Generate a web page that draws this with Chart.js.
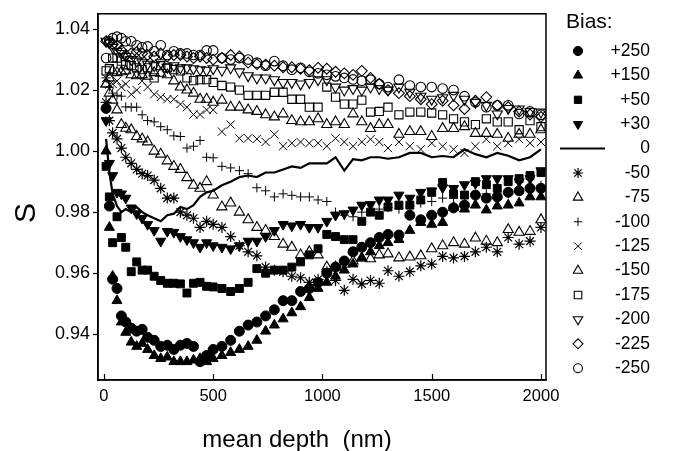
<!DOCTYPE html>
<html><head><meta charset="utf-8">
<script src="https://cdn.jsdelivr.net/npm/chart.js@4/dist/chart.umd.min.js"></script>
<style>html,body{margin:0;padding:0;background:#fff}canvas{display:block}</style>
</head><body>
<canvas id="c" width="673" height="451"></canvas>
<script>
// ---- data ----
const depth = [10,25,40,60,80,100,125,150,175,200,
  230,260,290,320,350,380,410,440,470,500,
  540,580,620,660,700,740,780,820,860,900,
  940,980,1020,1060,1100,1140,1180,1220,1260,1300,
  1350,1400,1450,1500,1550,1600,1650,1700,1750,1800,
  1850,1900,1950,2000];
const xTicks = [0,500,1000,1500,2000];
const yTicks = [0.94,0.96,0.98,1.00,1.02,1.04];
const biasLabels = ['+250','+150','+50','+30','0','-50','-75','-100','-125','-150','-175','-200','-225','-250'];

const sP250 = [1.014,0.982,0.958,0.955,0.946,0.944,0.942,0.941,0.9416,0.939,
  0.938,0.936,0.9364,0.935,0.9364,0.937,0.936,0.931,0.933,0.935,
  0.936,0.938,0.941,0.943,0.944,0.946,0.948,0.951,0.951,0.954,
  0.955,0.957,0.960,0.962,0.964,0.967,0.9685,0.970,0.9717,0.9727,
  0.9725,0.979,0.9775,0.979,0.980,0.9814,0.9823,0.9856,0.9846,0.985,
  0.9865,0.987,0.9878,0.9878];
const sP150 = [1.000,0.975,0.959,0.951,0.944,0.9406,0.9374,0.936,0.937,0.935,
  0.933,0.932,0.9325,0.931,0.931,0.931,0.9315,0.932,0.931,0.932,
  0.933,0.934,0.935,0.936,0.938,0.941,0.943,0.945,0.947,0.949,
  0.952,0.955,0.957,0.959,0.961,0.963,0.965,0.967,0.969,0.970,
  0.971,0.974,0.9766,0.976,0.9766,0.9815,0.981,0.9823,0.9807,0.982,
  0.9823,0.983,0.985,0.985];
const sP50 = [0.995,0.985,0.970,0.9785,0.9717,0.9685,0.9605,0.9637,0.961,0.961,
  0.959,0.9576,0.9567,0.9567,0.9565,0.9535,0.9567,0.957,0.9557,0.9555,
  0.955,0.954,0.955,0.957,0.9615,0.960,0.961,0.961,0.962,0.9637,
  0.966,0.968,0.9727,0.972,0.971,0.971,0.977,0.980,0.979,0.9817,
  0.9823,0.9823,0.984,0.9865,0.9897,0.986,0.9856,0.990,0.989,0.9878,
  0.990,0.991,0.992,0.993];
const sP30 = [1.010,0.996,0.992,0.9865,0.986,0.9846,0.9814,0.9795,0.978,0.976,
  0.974,0.9705,0.9737,0.9734,0.972,0.971,0.970,0.9685,0.970,0.969,
  0.9685,0.968,0.969,0.9705,0.9705,0.972,0.974,0.976,0.9755,0.976,
  0.975,0.975,0.977,0.979,0.9795,0.9807,0.9823,0.9825,0.984,0.984,
  0.9856,0.9846,0.9865,0.987,0.988,0.9878,0.989,0.9894,0.991,0.991,
  0.991,0.990,0.991,0.9936];
const sZero = [1.004,0.993,0.986,0.982,0.980,0.981,0.980,0.9817,0.980,0.979,
  0.978,0.977,0.979,0.9795,0.9817,0.9810,0.9823,0.985,0.9865,0.987,
  0.9888,0.990,0.9915,0.992,0.9915,0.993,0.993,0.994,0.995,0.9945,
  0.996,0.996,0.996,0.998,0.9936,0.9974,0.997,0.998,0.998,0.9975,
  0.998,0.9994,0.9994,0.998,0.9984,0.998,1.0006,0.999,0.998,0.9994,
  0.9985,0.997,0.998,1.0006];
const sM50 = [1.016,1.010,1.006,1.004,1.001,0.998,0.996,0.994,0.9926,0.992,
  0.9905,0.9878,0.9846,0.9846,0.980,0.979,0.978,0.975,0.977,0.976,
  0.975,0.972,0.969,0.967,0.9657,0.962,0.961,0.9605,0.959,0.9585,
  0.957,0.958,0.9605,0.9576,0.9544,0.958,0.9565,0.9576,0.9567,0.9608,
  0.959,0.9605,0.9624,0.963,0.9655,0.965,0.9655,0.967,0.9685,0.967,
  0.9717,0.9695,0.9705,0.975];
const sM75 = [1.022,1.019,1.0167,1.0135,1.0087,1.0075,1.007,1.0048,1.004,1.003,
  1.000,0.999,0.9968,0.995,0.994,0.9913,0.9888,0.9878,0.990,0.9856,
  0.9817,0.983,0.980,0.9775,0.975,0.974,0.972,0.9695,0.9685,0.966,
  0.967,0.966,0.962,0.962,0.963,0.964,0.965,0.9647,0.966,0.9663,
  0.965,0.9653,0.9657,0.968,0.969,0.970,0.9695,0.9715,0.9705,0.970,
  0.9743,0.9734,0.9737,0.9775];
const sM100 = [1.024,1.021,1.019,1.0183,1.018,1.0145,1.0144,1.0144,1.0119,1.010,
  1.0096,1.008,1.007,1.005,1.0048,1.001,1.0016,1.0035,0.998,0.9978,
  0.995,0.9945,0.9936,0.9926,0.988,0.987,0.985,0.986,0.9855,0.985,
  0.985,0.984,0.9835,0.980,0.979,0.9785,0.980,0.9805,0.981,0.9815,
  0.981,0.982,0.983,0.9835,0.9846,0.9845,0.985,0.9855,0.986,0.9858,
  0.986,0.987,0.988,0.9888];
const sM125 = [1.024,1.0218,1.022,1.023,1.021,1.022,1.0186,1.020,1.023,1.021,
  1.0186,1.0177,1.017,1.017,1.0154,1.0144,1.012,1.012,1.0135,1.0135,
  1.0064,1.0087,1.0042,1.0042,1.004,1.003,1.0055,1.0016,1.0026,1.003,
  1.0026,1.0026,1.0016,1.0042,1.003,1.0016,1.003,1.0039,1.003,1.001,
  1.003,1.0016,1.0006,1.0026,1.0016,1.0006,0.9994,1.0016,1.0039,1.0016,
  1.0026,1.0039,1.0026,1.003];
const sM150 = [1.022,1.024,1.0263,1.0257,1.026,1.0263,1.025,1.0247,1.025,1.0245,
  1.0257,1.0255,1.025,1.023,1.021,1.020,1.019,1.017,1.017,1.016,
  1.0167,1.0144,1.0144,1.0135,1.013,1.0119,1.0112,1.0122,1.010,1.0096,
  1.0096,1.0106,1.0087,1.0096,1.0087,1.0122,1.0096,1.0074,1.0087,1.0087,
  1.0055,1.0064,1.0064,1.0048,1.0074,1.0074,1.008,1.0058,1.0058,1.0055,
  1.0042,1.0055,1.0055,1.007];
const sM175 = [1.0263,1.027,1.0305,1.0305,1.0295,1.0283,1.028,1.0273,1.0267,1.0273,
  1.024,1.028,1.0273,1.0267,1.0263,1.024,1.0231,1.0234,1.0234,1.0225,
  1.0215,1.021,1.020,1.0183,1.0183,1.0183,1.0193,1.0193,1.017,1.017,
  1.0144,1.0144,1.021,1.0177,1.0154,1.0154,1.0167,1.0128,1.013,1.0144,
  1.0119,1.0128,1.0128,1.0125,1.0119,1.0106,1.0096,1.0087,1.0106,1.0096,
  1.0096,1.007,1.010,1.008];
const sM200 = [1.036,1.0355,1.034,1.0327,1.032,1.031,1.030,1.0295,1.029,1.0285,
  1.028,1.029,1.0275,1.028,1.0273,1.0273,1.027,1.0267,1.0265,1.027,
  1.0265,1.0273,1.026,1.0247,1.024,1.024,1.0234,1.0225,1.0225,1.022,
  1.0225,1.0234,1.0234,1.021,1.020,1.0205,1.020,1.021,1.0205,1.020,
  1.021,1.0193,1.018,1.017,1.0175,1.0183,1.017,1.016,1.015,1.0122,
  1.014,1.0138,1.013,1.0128];
const sM225 = [1.036,1.0355,1.035,1.0347,1.033,1.0315,1.032,1.0325,1.032,1.0315,
  1.031,1.032,1.031,1.0315,1.0315,1.031,1.0305,1.031,1.0305,1.030,
  1.0305,1.0315,1.031,1.029,1.0285,1.0283,1.028,1.0275,1.0275,1.027,
  1.0265,1.0273,1.027,1.026,1.0255,1.025,1.0263,1.024,1.022,1.020,
  1.019,1.018,1.017,1.0154,1.0165,1.015,1.0138,1.0165,1.0177,1.015,
  1.0144,1.013,1.012,1.0112];
const sM250 = [1.0305,1.036,1.037,1.0375,1.037,1.036,1.036,1.0347,1.034,1.0343,
  1.0327,1.0347,1.0315,1.0327,1.032,1.032,1.0315,1.0315,1.033,1.033,
  1.0305,1.030,1.0305,1.030,1.029,1.028,1.0295,1.028,1.0267,1.0273,
  1.026,1.0255,1.025,1.0245,1.024,1.0235,1.0231,1.0234,1.022,1.021,
  1.0234,1.0215,1.021,1.021,1.0205,1.020,1.018,1.016,1.0144,1.015,
  1.015,1.0122,1.013,1.0119];

const seriesValues = [sP250,sP150,sP50,sP30,sZero,sM50,sM75,sM100,sM125,sM150,sM175,sM200,sM225,sM250];

// ---- styles ----
const NONE = 'rgba(0,0,0,0)';
const styles = [
  {ps:'circle',   r:5,   rot:0,   fill:'#000', bw:1},
  {ps:'triangle', r:5.8, rot:0,   fill:'#000', bw:1},
  {ps:'rect',     r:5.6, rot:0,   fill:'#000', bw:1},
  {ps:'triangle', r:5.8, rot:180, fill:'#000', bw:1},
  {line:true},
  {ps:'star',     r:5.5, rot:0,   fill:NONE,   bw:1.2},
  {ps:'triangle', r:5.9, rot:0,   fill:NONE,   bw:1.1},
  {ps:'cross',    r:4.6, rot:0,   fill:NONE,   bw:1},
  {ps:'crossRot', r:5.8, rot:0,   fill:NONE,   bw:1},
  {ps:'triangle', r:5.9, rot:0,   fill:NONE,   bw:1.1},
  {ps:'rect',     r:5.8, rot:0,   fill:NONE,   bw:1.1},
  {ps:'triangle', r:5.9, rot:180, fill:NONE,   bw:1.1},
  {ps:'rectRot',  r:5.4, rot:0,   fill:NONE,   bw:1.1},
  {ps:'circle',   r:4.8, rot:0,   fill:NONE,   bw:1.1}
];

const FONT = '"Liberation Sans", Arial, Helvetica, sans-serif';

const datasets = seriesValues.map((vals, i) => {
  const st = styles[i];
  const data = depth.map((d, k) => ({x: d, y: vals[k]}));
  if (st.line) {
    return {label: biasLabels[i], data, showLine: true, borderColor: '#000', borderWidth: 2.2,
      pointRadius: 0, fill: false, tension: 0};
  }
  return {label: biasLabels[i], data, showLine: false,
    pointStyle: st.ps, pointRadius: st.r, pointRotation: st.rot,
    pointBackgroundColor: st.fill, pointBorderColor: '#000', pointBorderWidth: st.bw,
    pointHoverRadius: st.r};
});

const extras = {
  id: 'extras',
  afterDraw(chart) {
    const {ctx, chartArea: a, scales: {x}} = chart;
    ctx.save();
    ctx.strokeStyle = '#000';
    ctx.lineWidth = 1.5;
    ctx.strokeRect(a.left, a.top, a.right - a.left, a.bottom - a.top);
    // inward x ticks
    ctx.lineWidth = 1.2;
    xTicks.forEach(v => {
      const px = Math.round(x.getPixelForValue(v)) + 0.5;
      ctx.beginPath(); ctx.moveTo(px, a.bottom); ctx.lineTo(px, a.bottom - 6); ctx.stroke();
    });
    // axis titles
    ctx.fillStyle = '#000';
    ctx.textAlign = 'center'; ctx.textBaseline = 'middle';
    ctx.font = '24px ' + FONT;
    ctx.fillText('mean depth  (nm)', 297, 440);
    ctx.save();
    ctx.translate(27, 213); ctx.rotate(-Math.PI / 2);
    ctx.font = '30px ' + FONT;
    ctx.fillText('S', 0, 0);
    ctx.restore();
    // legend
    ctx.textAlign = 'left';
    ctx.font = '21px ' + FONT;
    ctx.fillText('Bias:', 566, 22);
    ctx.font = '17.5px ' + FONT;
    const sx = 578;
    biasLabels.forEach((lab, i) => {
      const yy = 51 + i * 24.4;
      const st = styles[i];
      ctx.strokeStyle = '#000';
      if (st.line) {
        ctx.lineWidth = 2;
        ctx.beginPath(); ctx.moveTo(560, yy); ctx.lineTo(605, yy); ctx.stroke();
      } else {
        ctx.fillStyle = st.fill;
        ctx.lineWidth = st.bw;
        Chart.helpers.drawPoint(ctx, {pointStyle: st.ps, radius: st.r * 0.92, rotation: st.rot, borderWidth: st.bw}, sx, yy);
      }
      ctx.fillStyle = '#000';
      ctx.textAlign = 'right';
      ctx.fillText(lab, 650, yy);
    });
    ctx.restore();
  }
};

new Chart(document.getElementById('c'), {
  type: 'scatter',
  data: {datasets},
  options: {
    responsive: false,
    animation: false,
    events: [],
    layout: {padding: {top: 6, right: 127, left: 0, bottom: 0}},
    plugins: {legend: {display: false}, tooltip: {enabled: false}, title: {display: false}},
    scales: {
      x: {
        type: 'linear', min: -27, max: 2023,
        afterBuildTicks: s => { s.ticks = xTicks.map(v => ({value: v})); },
        afterFit: s => { s.height = 71; },
        grid: {display: true, drawOnChartArea: false, drawTicks: false, color: '#000'},
        border: {display: true, color: '#000', width: 1.5},
        ticks: {color: '#000', font: {size: 16.5, family: FONT}, padding: 7, maxRotation: 0,
          callback: v => String(v)}
      },
      y: {
        type: 'linear', min: 0.925, max: 1.045,
        afterBuildTicks: s => { s.ticks = yTicks.map(v => ({value: v})); },
        afterFit: s => { s.width = 98; },
        grid: {display: true, drawOnChartArea: false, drawTicks: true, tickLength: 5, color: '#000', tickWidth: 1.2},
        border: {display: true, color: '#000', width: 1.5},
        ticks: {color: '#000', font: {size: 18, family: FONT}, padding: 3,
          callback: v => Number(v).toFixed(2)}
      }
    }
  },
  plugins: [extras]
});
</script>
</body></html>
